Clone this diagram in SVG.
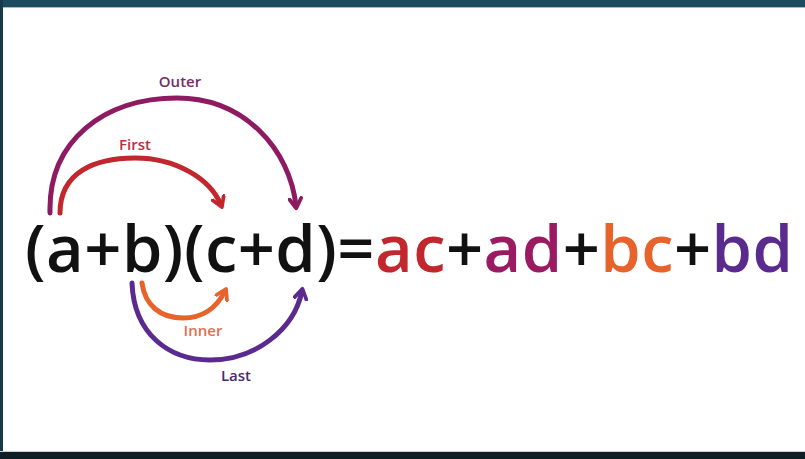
<svg xmlns="http://www.w3.org/2000/svg" width="805" height="459" viewBox="0 0 805 459">
<style>
.eq{font-family:"Open Sans","Noto Sans","DejaVu Sans",sans-serif;font-weight:600;font-size:65px;fill:#111}
.lbl{font-family:"Open Sans","Noto Sans","DejaVu Sans",sans-serif;font-weight:600;font-size:15px;text-anchor:middle}
.arc{fill:none;stroke-width:5;stroke-linecap:round}
</style>
<defs>
<marker id="mOuter" viewBox="0 0 10 10" refX="6" refY="5" markerWidth="15" markerHeight="15" markerUnits="userSpaceOnUse" orient="auto"><path d="M1,1 L7.5,5 L1,9" fill="none" stroke="#8e1a62" stroke-width="2.5" stroke-linecap="round" stroke-linejoin="round"/></marker>
<marker id="mFirst" viewBox="0 0 10 10" refX="6" refY="5" markerWidth="15" markerHeight="15" markerUnits="userSpaceOnUse" orient="auto"><path d="M1,1 L7.5,5 L1,9" fill="none" stroke="#c1272d" stroke-width="2.5" stroke-linecap="round" stroke-linejoin="round"/></marker>
<marker id="mInner" viewBox="0 0 10 10" refX="6" refY="5" markerWidth="15" markerHeight="15" markerUnits="userSpaceOnUse" orient="auto"><path d="M1,1 L7.5,5 L1,9" fill="none" stroke="#e8632b" stroke-width="2.5" stroke-linecap="round" stroke-linejoin="round"/></marker>
<marker id="mLast" viewBox="0 0 10 10" refX="6" refY="5" markerWidth="15" markerHeight="15" markerUnits="userSpaceOnUse" orient="auto"><path d="M1,1 L7.5,5 L1,9" fill="none" stroke="#5a2a8e" stroke-width="2.5" stroke-linecap="round" stroke-linejoin="round"/></marker>
</defs>
<rect x="0" y="0" width="805" height="459" fill="#ffffff"/>
<rect x="0" y="0" width="805" height="7" fill="#1c4a5e"/>
<rect x="0" y="7" width="805" height="1" fill="#a9bcc4"/>
<rect x="0" y="0" width="3" height="459" fill="#17394a"/>
<rect x="0" y="451" width="805" height="1" fill="#c8cdd0"/>
<rect x="0" y="452" width="805" height="7" fill="#0f1c24"/>

<g id="connectors">
<path id="outer" class="arc" stroke="#8e1a62" d="M50,213 C48,140 105,98 177,98 C245,98 290,150 296,206" marker-end="url(#mOuter)"/>
<path id="first" class="arc" stroke="#c1272d" d="M60,213 C60,172 95,158 135,158 C175,158 210,178 221,205" marker-end="url(#mFirst)"/>
<path id="inner" class="arc" stroke="#e8632b" d="M142,283 C145,305 160,318 183,318 C205,318 218,305 225,291" marker-end="url(#mInner)"/>
<path id="last" class="arc" stroke="#5a2a8e" d="M132,283 C134,335 170,360 210,360 C255,360 294,330 302,291" marker-end="url(#mLast)"/>
</g>

<g id="labels">
<text class="lbl" x="180" y="87" fill="#7a2a64">Outer</text>
<text class="lbl" x="135" y="150" fill="#b8303f">First</text>
<text class="lbl" x="203" y="336" fill="#e07050">Inner</text>
<text class="lbl" x="236" y="381" fill="#4a2a6e">Last</text>
</g>

<g id="equation">
<text class="eq" x="25" y="272" textLength="768" lengthAdjust="spacing">(a+b)(c+d)=<tspan fill="#c1272d">ac</tspan>+<tspan fill="#9b1b62">ad</tspan>+<tspan fill="#e8632b">bc</tspan>+<tspan fill="#5a2a8e">bd</tspan></text>
</g>
</svg>
